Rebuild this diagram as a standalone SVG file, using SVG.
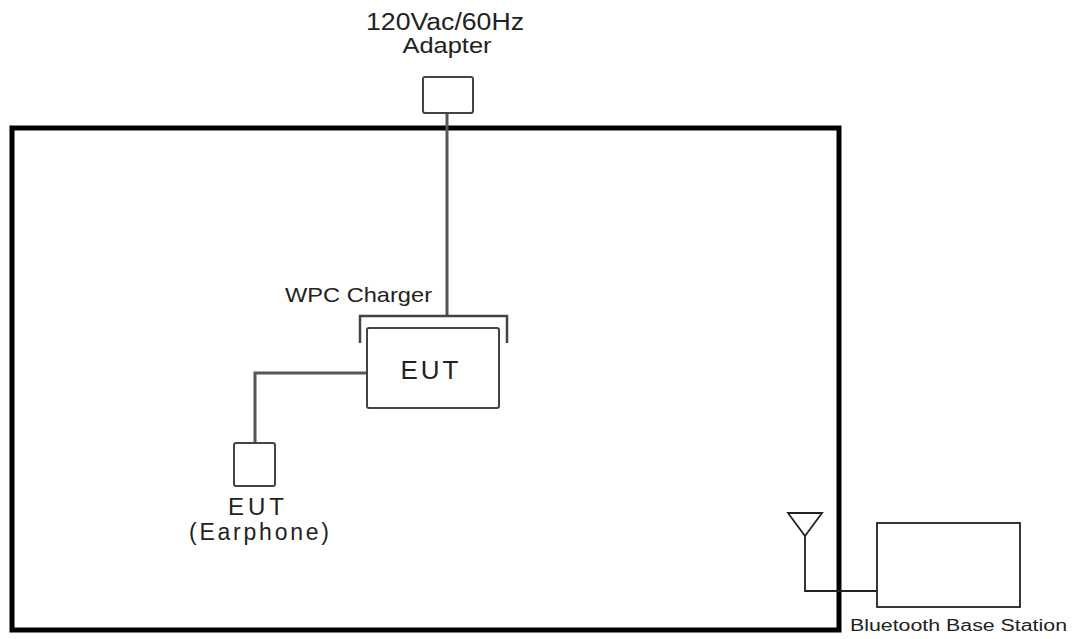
<svg xmlns="http://www.w3.org/2000/svg" width="1075" height="639" viewBox="0 0 1075 639">
<style>
text{font-family:"Liberation Sans",Arial,sans-serif;fill:#222}
.box{fill:#fff;stroke:#444;stroke-width:2}
.wire{fill:none;stroke:#555;stroke-width:3}
.thin{fill:none;stroke:#222;stroke-width:1.8}
</style>
<rect width="1075" height="639" fill="#fff"/>
<g id="room"><rect x="12" y="128" width="827" height="502" fill="none" stroke="#000" stroke-width="5"/></g>
<g id="connectors">
<line class="wire" x1="447" y1="113" x2="447" y2="316"/>
<polyline class="wire" points="368,373 255,373 255,443"/>
<polyline class="thin" points="805,536 805,591 877,591"/>
</g>
<g id="adapter">
<rect class="box" x="423" y="77" width="50" height="36" rx="2"/>
<text x="445" y="30" font-size="23" text-anchor="middle" textLength="158" lengthAdjust="spacingAndGlyphs">120Vac/60Hz</text>
<text x="447" y="53" font-size="22" text-anchor="middle" textLength="89" lengthAdjust="spacingAndGlyphs">Adapter</text>
</g>
<g id="charger">
<polyline fill="none" stroke="#444" stroke-width="2.5" points="360,343 360,316 507,316 507,343"/>
<text x="285" y="302" font-size="21" textLength="147" lengthAdjust="spacingAndGlyphs">WPC Charger</text>
</g>
<g id="eut">
<rect class="box" x="367" y="328" width="132" height="80" rx="2"/>
<text x="431" y="379" font-size="26" text-anchor="middle" letter-spacing="3">EUT</text>
</g>
<g id="earphone">
<rect class="box" x="234" y="443" width="41" height="43" rx="2"/>
<text x="258" y="515" font-size="24" text-anchor="middle" letter-spacing="4">EUT</text>
<text x="259" y="540" font-size="23" text-anchor="middle" textLength="140" lengthAdjust="spacing">(Earphone)</text>
</g>
<g id="antenna">
<polygon points="788,513 822,513 805,536" fill="#fff" stroke="#222" stroke-width="1.8"/>
</g>
<g id="base-station">
<rect x="877" y="523" width="143" height="84" fill="#fff" stroke="#222" stroke-width="1.8"/>
<text x="850" y="631" font-size="16" textLength="217" lengthAdjust="spacingAndGlyphs">Bluetooth Base Station</text>
</g>
</svg>
